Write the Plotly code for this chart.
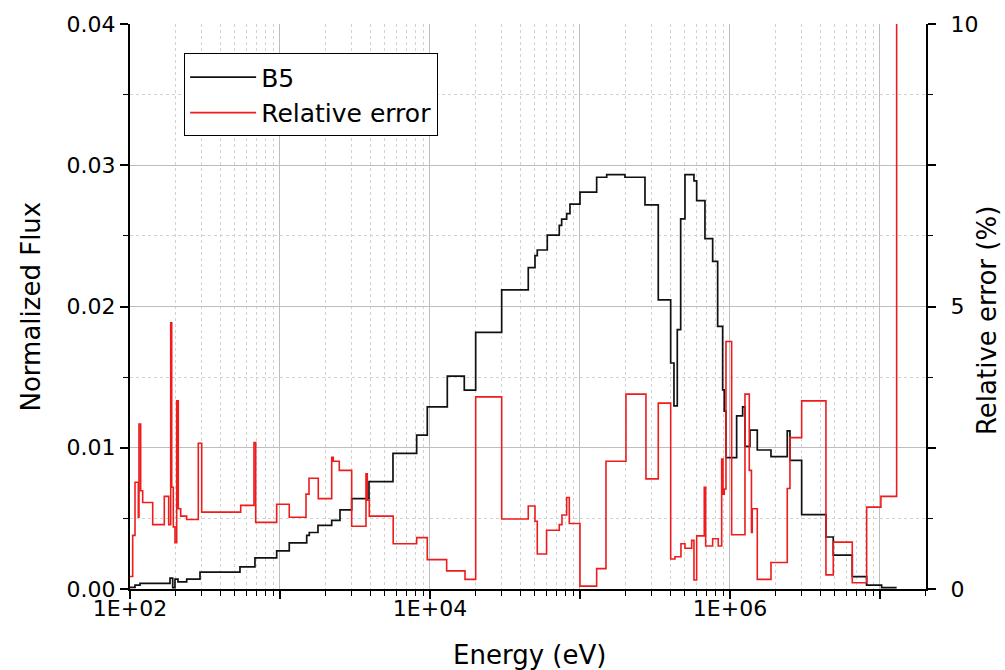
import plotly.graph_objects as go

# ---------------- data ----------------
# B5 normalized flux: group lower edges (eV) and group values (histogram steps)
b5_energy = [100, 108, 116.6, 184.8, 192.6, 199.5, 208.9, 238.8, 292.9, 541, 681, 950.6,
             1153, 1507, 1568, 1792, 2212, 2512, 3006, 3920, 5667, 8153, 9594, 13046,
             16930, 20170, 30060, 45220, 50120, 51920, 60530, 72780, 75510, 81530, 85770,
             1.0e5, 1.292e5, 1.507e5, 1.995e5, 2.713e5, 3.327e5, 4.025e5, 4.233e5, 4.454e5,
             4.692e5, 5.012e5, 5.754e5, 5.998e5, 6.813e5, 7.667e5, 8.279e5, 8.94e5, 9.162e5,
             9.406e5, 1.108e6, 1.215e6, 1.259e6, 1.359e6, 1.521e6, 1.877e6, 2.41e6, 2.512e6,
             3.006e6, 4.365e6, 4.884e6, 6.537e6, 8.153e6, 1.026e7, 1.292e7]
b5_flux = [0.00012, 0.00028, 0.0004, 0.00077, 0.0001, 0.0007, 0.0005, 0.0007, 0.0012, 0.00157,
           0.0022, 0.0027, 0.00326, 0.0038, 0.0040, 0.0045, 0.00486, 0.0056, 0.0064, 0.0076,
           0.0096, 0.0109, 0.0129, 0.01507, 0.01408, 0.01817, 0.02118, 0.02275, 0.0236, 0.0240,
           0.02505, 0.02575, 0.02618, 0.02657, 0.02725, 0.0281, 0.02915, 0.02934, 0.02915, 0.0272,
           0.02047, 0.0160, 0.01296, 0.01836, 0.0262, 0.02934, 0.0289, 0.0275, 0.0248, 0.0232,
           0.0186, 0.0141, 0.0126, 0.0093, 0.01225, 0.0129, 0.0101, 0.01125, 0.00984, 0.00937,
           0.0112, 0.0091, 0.00526, 0.00368, 0.0024, 0.00087, 0.00028, 0.0001]

# Relative error (%): group edges (eV) and values
rel_energy = [100, 104.2, 108, 113.6, 114.8, 117.8, 121.5, 141.7, 169.3, 181.1, 186.8, 189.7,
              194.4, 199.5, 204.8, 209.9, 217.8, 238.8, 285.3, 300.6, 547, 671, 688.6, 950.6,
              1153, 1491, 1561, 1800, 2212, 2266, 2485, 3006, 3744, 3819, 3938, 5684, 8153,
              9594, 12920, 17120, 20170, 30060, 45220, 50120, 51920, 59880, 72780, 75860, 81530,
              84870, 1.0e5, 1.292e5, 1.491e5, 2.026e5, 2.754e5, 3.327e5, 4.025e5, 4.299e5,
              4.713e5, 5.012e5, 5.555e5, 5.754e5, 5.998e5, 6.74e5, 6.887e5, 7.667e5, 8.356e5,
              8.805e5, 8.982e5, 9.162e5, 9.406e5, 1.026e6, 1.259e6, 1.345e6, 1.391e6, 1.408e6,
              1.521e6, 1.877e6, 2.41e6, 2.512e6, 3.006e6, 4.365e6, 4.884e6, 6.537e6, 8.153e6,
              1.015e7, 1.292e7, 2.0e7]
rel_error = [0.22, 0.95, 1.89, 1.27, 2.92, 1.74, 1.53, 1.14, 1.64, 1.14,
             4.71, 1.80, 1.10, 0.82, 3.33, 1.42, 1.29, 1.23, 2.58, 1.36,
             1.48, 2.59, 1.18, 1.50, 1.27, 1.68, 1.96, 1.60, 2.33, 2.26,
             2.10, 1.11, 2.04, 1.57, 1.29, 0.80, 0.91, 0.52, 0.32, 0.17,
             3.40, 1.24, 1.47, 1.20, 0.62, 1.04, 1.14, 1.31, 1.62, 1.16,
             0.05, 0.36, 2.26, 3.45, 1.95, 3.29, 0.53, 0.57, 0.80, 0.72,
             0.86, 0.16, 0.94, 1.80, 0.76, 0.89, 0.76, 2.30, 1.68, 1.77,
             4.38, 0.96, 3.45, 2.10, 1.00, 1.42, 0.17, 0.47, 1.78, 2.68,
             3.33, 0.25, 0.83, 0.11, 1.45, 1.64, 20.0]

x_major = [1e2, 1e3, 1e4, 1e5, 1e6, 1e7]
x_major_text = ["1E+02", "", "1E+04", "", "1E+06", ""]
x_minor = [k * d for d in [1e2, 1e3, 1e4, 1e5, 1e6, 1e7] for k in range(2, 10)]
y2_major = [0, 2.5, 5, 7.5, 10]
y2_major_text = ["0", "", "5", "", "10"]
y2_minor = [1.25, 3.75, 6.25, 8.75]

FONT = "DejaVu Sans"
XRANGE = [2, 7.307]

fig = go.Figure()
fig.add_trace(go.Scatter(x=b5_energy, y=b5_flux + [b5_flux[-1]], mode="lines",
                         line=dict(color="#111111", width=1.7, shape="hv"), name="B5"))
fig.add_trace(go.Scatter(x=rel_energy, y=rel_error + [rel_error[-1]], mode="lines",
                         line=dict(color="#ee1c1c", width=1.6, shape="hv"),
                         name="Relative error", yaxis="y2"))

fig.update_layout(
    width=1005, height=670,
    margin=dict(l=130, r=79, t=20, b=81),
    plot_bgcolor="white", paper_bgcolor="white",
    font=dict(family=FONT, color="black", size=22),
    showlegend=True,
    legend=dict(x=0.068, y=0.948, xanchor="left", yanchor="top",
                bgcolor="white", bordercolor="black", borderwidth=1,
                font=dict(size=25, family=FONT), tracegroupgap=0,
                itemwidth=66),
    xaxis=dict(type="log", range=XRANGE, tickmode="array", tickvals=x_major,
               ticktext=x_major_text, ticks="outside", ticklen=8, tickwidth=1.5,
               tickcolor="black", showline=True, linecolor="black", linewidth=2,
               showgrid=True, gridcolor="#bdbdbd", gridwidth=1, zeroline=False,
               tickfont=dict(size=22), ticklabelstandoff=-9,
               minor=dict(tickmode="array", tickvals=x_minor, ticks="outside", ticklen=5,
                          tickwidth=1.2, tickcolor="black", showgrid=True,
                          gridcolor="#d2d2d2", griddash="dot", gridwidth=1)),
    xaxis3=dict(type="log", range=XRANGE, overlaying="x", side="top", anchor="y",
                tickmode="array", tickvals=x_major, ticks="inside", ticklen=8,
                tickwidth=1.5, tickcolor="black", showticklabels=False,
                showline=True, linecolor="black", linewidth=2, showgrid=False,
                zeroline=False,
                minor=dict(tickmode="array", tickvals=x_minor, ticks="inside", ticklen=5,
                           tickwidth=1.2, tickcolor="black", showgrid=False)),
    yaxis=dict(range=[0, 0.04], tickmode="linear", tick0=0, dtick=0.01, tickformat=".2f",
               ticks="outside", ticklen=8, tickwidth=1.5, tickcolor="black",
               showline=True, linecolor="black", linewidth=2,
               showgrid=True, gridcolor="#bdbdbd", gridwidth=1, zeroline=False,
               tickfont=dict(size=22),
               minor=dict(dtick=0.005, ticks="outside", ticklen=5, tickwidth=1.2,
                          tickcolor="black", showgrid=True, gridcolor="#d2d2d2",
                          griddash="dot", gridwidth=1)),
    yaxis2=dict(range=[0, 10], overlaying="y", side="right", anchor="x",
                tickmode="array", tickvals=y2_major, ticktext=y2_major_text,
                ticks="outside", ticklen=8, tickwidth=1.5, tickcolor="black",
                showline=True, linecolor="black", linewidth=2, showgrid=False,
                zeroline=False, tickfont=dict(size=22), ticklabelstandoff=10,
                minor=dict(tickmode="array", tickvals=y2_minor, ticks="outside",
                           ticklen=5, tickwidth=1.2, tickcolor="black", showgrid=False)),
    annotations=[
        dict(text="Normalized Flux", xref="paper", yref="paper", x=-0.1256, y=0.5,
             xanchor="center", yanchor="middle", textangle=-90, showarrow=False,
             font=dict(size=26, family=FONT)),
        dict(text="Relative error (%)", xref="paper", yref="paper", x=1.0766, y=0.476,
             xanchor="center", yanchor="middle", textangle=-90, showarrow=False,
             font=dict(size=26, family=FONT)),
        dict(text="Energy (eV)", xref="paper", yref="paper", x=0.5025, y=-0.116,
             xanchor="center", yanchor="middle", showarrow=False,
             font=dict(size=26, family=FONT)),
    ],
)

fig.write_html("out.html")
